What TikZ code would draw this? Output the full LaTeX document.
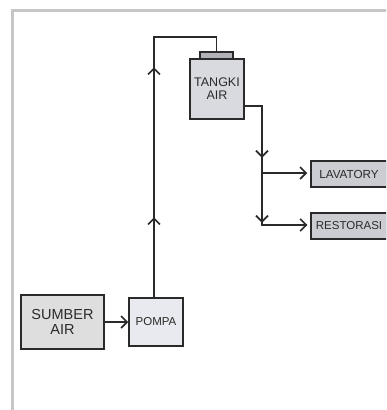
\documentclass[tikz,border=0pt]{standalone}
\usepackage{fontspec}
\setmainfont{Liberation Sans}
\usetikzlibrary{arrows.meta,decorations.markings}
\definecolor{frameg}{HTML}{C6C6C6}
\definecolor{edgec}{HTML}{2A2A2A}
\definecolor{srcfill}{HTML}{DEDEDE}
\definecolor{pumpfill}{HTML}{E9EAEF}
\definecolor{tankfill}{HTML}{D9DADF}
\definecolor{capfill}{HTML}{B2B3B8}
\definecolor{outfill}{HTML}{CCCDD3}
\tikzset{
  blk/.style={draw=edgec, line width=1.5pt, rectangle, inner sep=0pt, align=center, text=edgec},
  pipe/.style={draw=edgec, line width=1.6pt},
  barb/.tip={Straight Barb[length=6pt,width=12pt,line width=1.6pt]},
}
\begin{document}
\begin{tikzpicture}[x=1pt,y=-1pt]
\useasboundingbox (0,0) rectangle (386,410);
\clip (0,0) rectangle (386,410);
\fill[white] (0,0) rectangle (386,410);
% frame
\draw[frameg, line width=3pt] (12.5,412) -- (12.5,10) -- (390,10);
% nodes
\node[blk, fill=srcfill, minimum width=83pt, minimum height=54pt, font=\fontsize{14.5}{16}\selectfont] (src) at (62.5,322) {SUMBER\\[-0.5pt]AIR};
\node[blk, fill=pumpfill, minimum width=54pt, minimum height=48pt, font=\fontsize{11.5}{13}\selectfont] (pump) at (156,322) {POMPA};
\node[blk, fill=tankfill, minimum width=54pt, minimum height=60pt, font=\fontsize{12.5}{13}\selectfont] (tank) at (217,89) {TANGKI\\AIR};
\node[blk, fill=capfill, minimum width=33pt, minimum height=7pt] (cap) at (216.5,55.5) {};
\node[blk, fill=outfill, minimum width=76pt, minimum height=26pt, font=\fontsize{11.7}{13}\selectfont] (lav) at (349,174) {LAVATORY};
\node[blk, fill=outfill, minimum width=76pt, minimum height=26pt, font=\fontsize{11.5}{13}\selectfont] (rest) at (349,226) {RESTORASI};
% coordinates
\coordinate (top) at (154,37);
\coordinate (bend) at (262,106);
\coordinate (split) at (262,173);
\coordinate (low) at (262,225);
% connectors
\draw[pipe, -{barb}] (src.east) -- (pump.west);
\draw[pipe, postaction={decorate}, decoration={markings,
    mark=at position 80pt with {\arrow{barb}},
    mark=at position 230pt with {\arrow{barb}}}]
  (pump.north -| top) -- (top) -| (cap.north);
\draw[pipe, postaction={decorate}, decoration={markings,
    mark=at position 69pt with {\arrow{barb}},
    mark=at position 134pt with {\arrow{barb}}}]
  (tank.east |- bend) -- (bend) -- (low) -- ([xshift=-3pt]rest.west |- low);
\draw[pipe, -{barb}] ([xshift=-3pt]rest.west |- low) -- ++(0.1,0);
\draw[pipe, -{barb}] (split) -- ([xshift=-3pt]lav.west |- split);
\end{tikzpicture}
\end{document}
